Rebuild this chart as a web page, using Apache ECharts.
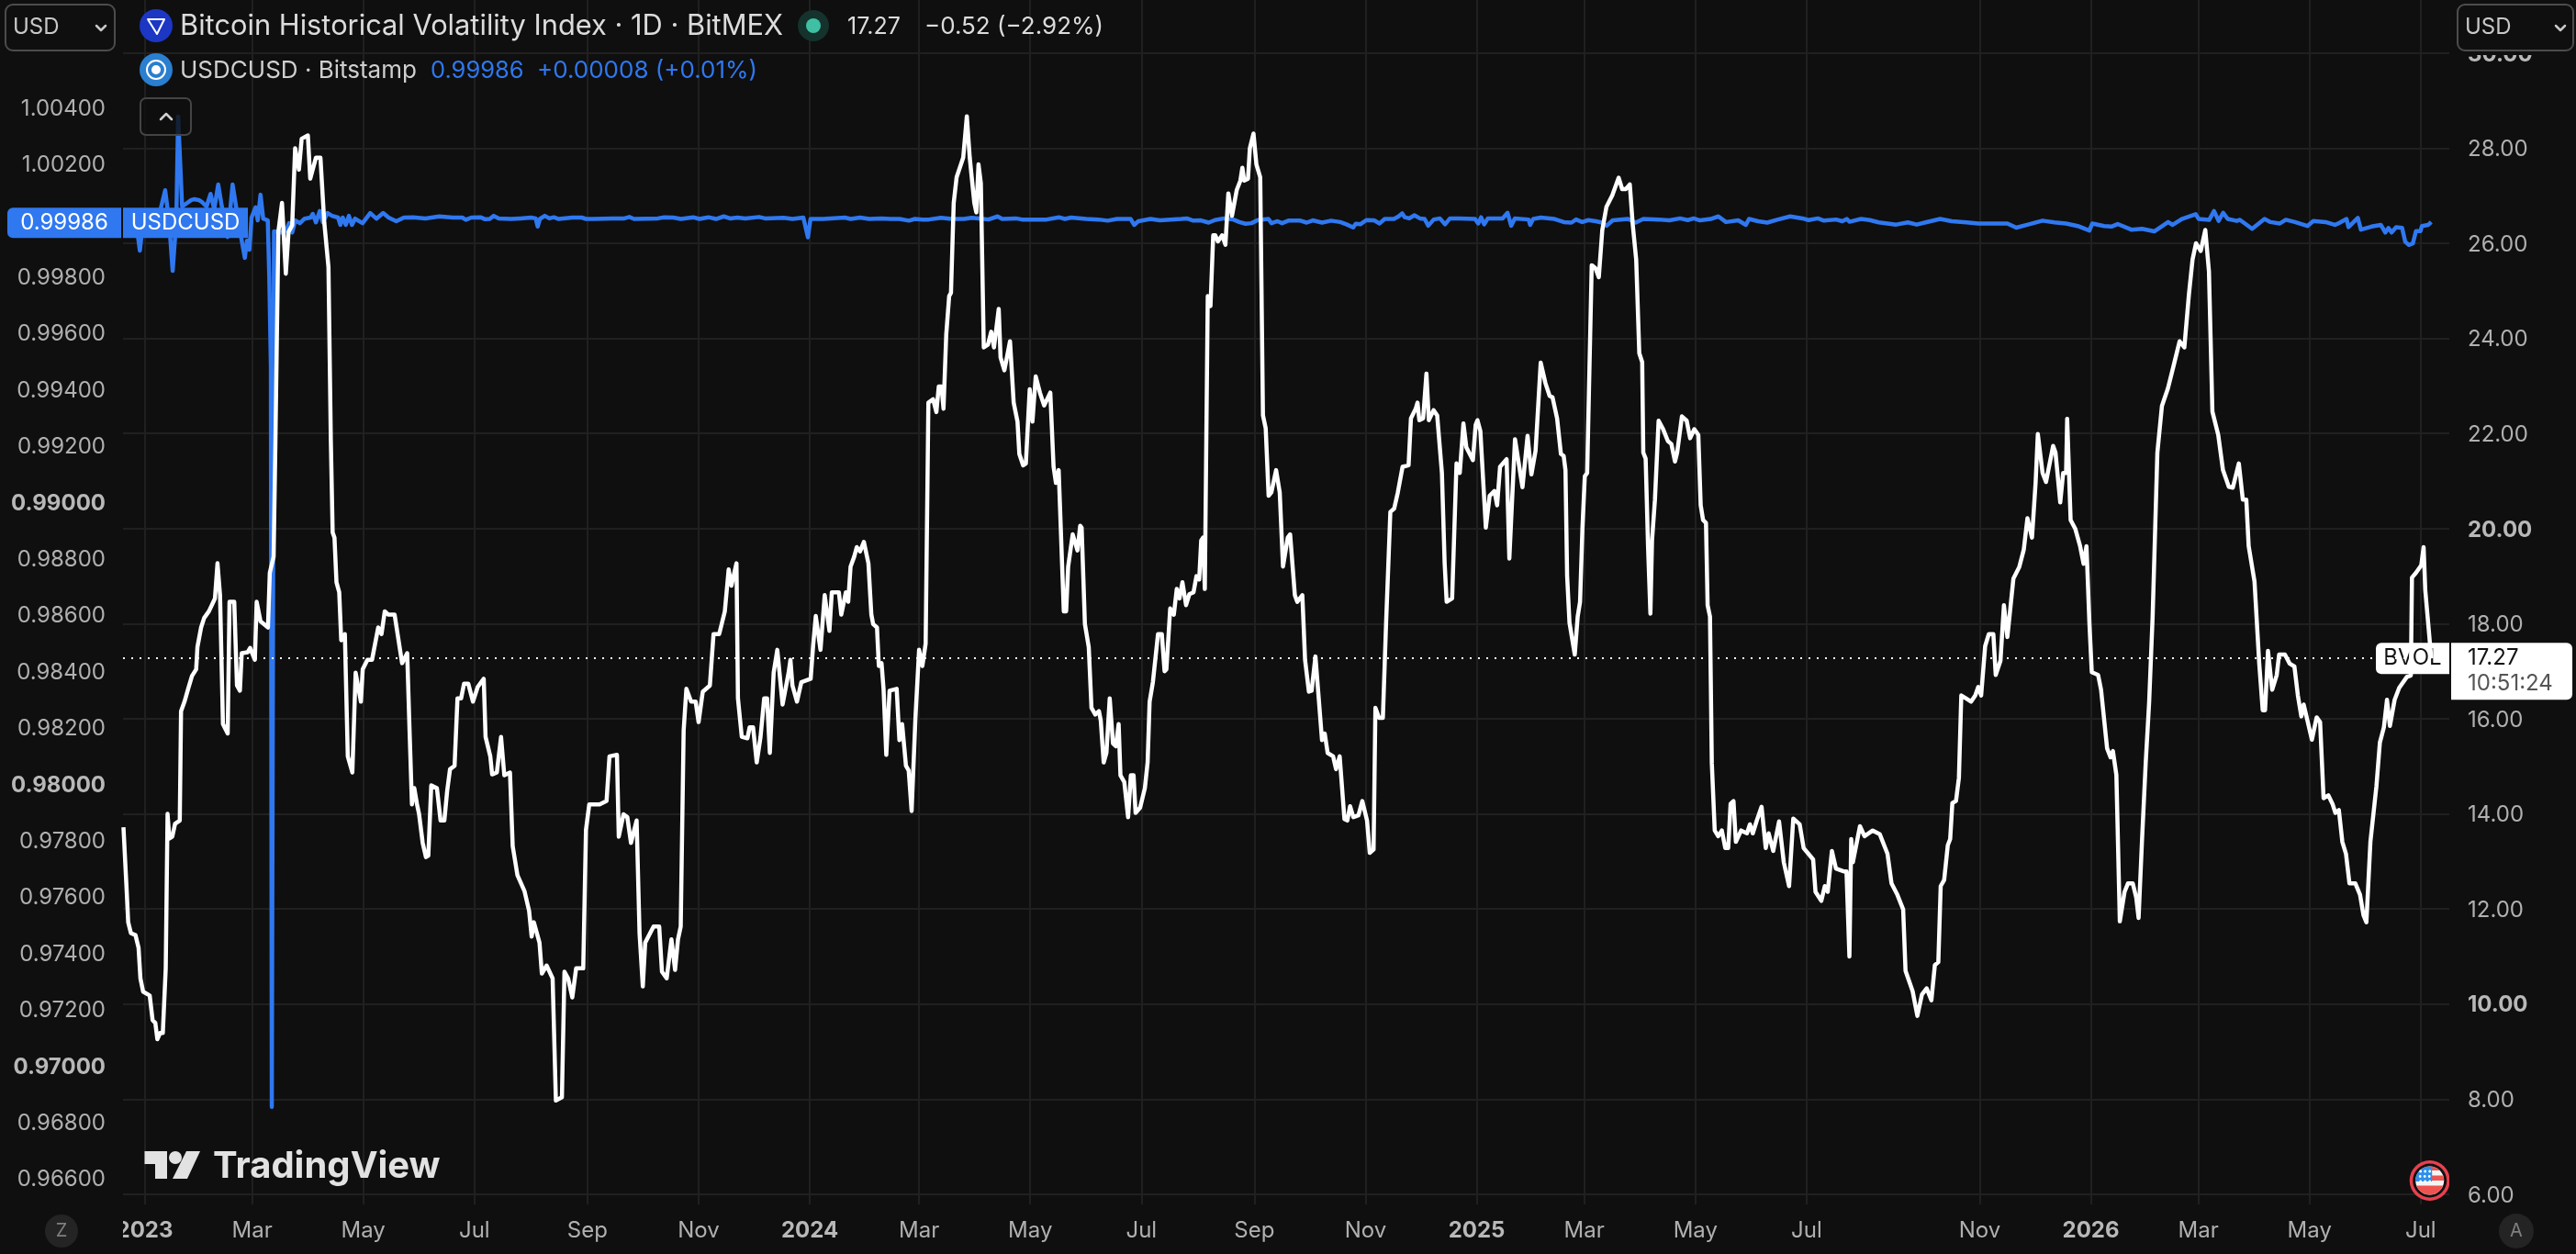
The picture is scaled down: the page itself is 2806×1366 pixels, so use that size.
<!DOCTYPE html>
<html>
<head>
<meta charset="utf-8">
<title>Bitcoin Historical Volatility Index vs USDCUSD</title>
<style>html,body{margin:0;padding:0;background:#0f0f0f}#chart{width:2806px;height:1366px}</style>
<script src="https://cdn.jsdelivr.net/npm/echarts@6/dist/echarts.min.js"></script>
</head>
<body>
<div id="chart"></div>
<script>
// Month ticks, in bars counted from 1 Jan 2023 (the feed skips a few weeks in Aug-Sep 2025).
const tickBars = [0,59,120,181,243,304,365,425,486,547,609,670,731,790,851,912,1007,1068,1127,1188,1249];
const tickLabels = ['2023','Mar','May','Jul','Sep','Nov','2024','Mar','May','Jul','Sep','Nov','2025','Mar','May','Jul','Nov','2026','Mar','May','Jul'];
const yearLabels = ['2023','2024','2025','2026'];

const volTicks = [6,8,10,12,14,16,18,20,22,24,26,28,30];
const volBoldTicks = [10,20,30];
const usdcTicks = [0.966,0.968,0.97,0.972,0.974,0.976,0.978,0.98,0.982,0.984,0.986,0.988,0.99,0.992,0.994,0.996,0.998,1,1.002,1.004];
const usdcBoldTicks = [0.97,0.98,0.99,1];

const bvolLast = 17.27;
const usdcLast = 0.99986;

// BVOL daily closes (bar number, index value)
const bvolBars = [-11.6,-10,-9,-7.5,-5,-3.3,-2.3,-0.8,2.8,4.4,5.9,7,8.5,10,11.6,12.6,13.6,15.2,16.7,19.3,20,21.9,23.9,26,28.3,29,31,32.7,35.3,38.6,40,41.4,43,45.6,46.6,49.2,50.7,52.3,53.3,56.6,57.9,60.5,61.5,63.6,67.7,68.7,70.8,71.8,73.4,75.4,77.5,79,81,82.6,84.7,86.2,89.6,90.9,94,96.5,98.6,100.9,102.2,103.2,104.2,105.3,106.8,107.9,109.9,111.5,114,115.8,118.7,119.7,122.3,124.8,128.2,130,131.8,133.8,137.2,141.3,144.1,145.4,146.7,148,149.5,150.6,152.6,154.4,155.7,157.3,160.4,162.4,164.5,166,167.6,170.1,171.7,173.7,175.3,177.6,180.2,182.8,186.1,187.1,189.7,190.7,193.3,195.6,197.4,200.5,202,204.6,208.5,211,212.4,213.6,216.7,218,220.6,223.9,225.7,229,230.4,232.4,234.7,236.8,240.7,242.2,244,249.7,253.5,255.1,259.2,260.2,262.8,264.9,266.9,270,271.6,273.4,274.7,279.3,282.4,283.9,286.5,289.1,291.1,292.7,294.2,295.8,297.3,299.9,302.4,304,306.3,310.2,312.2,315.3,318.4,320.5,322,324.8,325.6,327.7,330.8,332,333.9,335.9,338,340,341.6,343.1,345.2,347.2,350.1,353.4,354.4,355.5,358,360.4,365.5,366.8,368.3,370.9,373.2,375.8,377.1,381,382.3,384.8,386.1,387.4,389.4,
390.8,392.6,394.7,397.2,398.8,399.8,401.9,402.9,404.4,405.5,407,408.8,412.7,414.2,415.7,417.8,419.3,420.9,421.9,423,425,426.8,428.6,430.1,432.7,434.5,435.8,437.3,438.4,439.9,441.5,442.5,444,445.6,449.2,451.2,452.8,455.3,456.4,457.6,458.9,460.5,462.8,464.6,466.1,468.7,469.7,471.8,474.9,476.9,479,480,482.1,483.6,485.7,487.2,489,491.3,493.6,497,498.8,500.1,501.6,504.4,505.7,506.8,509.3,511.9,513.4,514.2,516,518.1,519.6,521.7,523.7,524.7,526.3,527.8,529.6,531.4,533,534.5,535.5,537.6,539.7,541.2,542.7,543.8,546.3,548.9,550.4,551.5,553.3,556.1,558.2,559.7,560.7,562.8,564.8,566.4,567.9,569.5,571.5,573.3,575.6,577.2,578.7,579.8,580.8,581.8,583.4,584.9,586.4,587.5,589,591.3,593.1,594.7,596.7,599.3,601.3,602.4,603.4,605.5,606.5,608.5,610.1,612.2,613.7,615.2,616.8,618.3,620.9,622.9,624.7,627.3,628.6,631.2,632.5,635.3,636.8,638.9,640.4,642.5,646.1,647.6,649.2,652.2,653.8,655.8,658.4,660,661.5,663.3,666.1,668.2,670.8,672.3,674.4,675.4,677.4,679.5,681.3,683.6,685.7,687.7,690.3,693.6,694.9,697.5,698.5,699.5,701.6,703.4,704.7,707.3,709.3,711.9,713.4,714.5,717.5,719.9,721.7,723.7,725.3,728.9,730.4,731.4,733,736,738.1,740.7,742.2,743.8,747.4,748.9,752,756.1,758.9,761,763.3,766.1,768.7,771,772.6,775.1,777.2,
778.7,779.7,780.6,781.9,783.2,784.8,786.4,787.7,789,790.3,791.6,794.1,796.1,798,799.9,802.2,805.4,808.9,810.8,812.8,815,816.6,818.5,820.2,821.8,822.4,823.7,825,826.3,827.2,828.8,830.8,833.3,835.9,837.8,839.8,841,843.6,846.2,848.1,850.4,852.6,853.9,855.2,856.8,857.7,859,860,861.6,863.5,865.5,867.4,869,870.3,871.9,873.2,876.1,879.3,880.9,882.5,884.7,887.3,889.6,891.2,893.7,896.9,899.5,902.4,904.7,908.2,910.4,913,915.6,916.9,920.1,922,923.6,925.9,928.1,932.3,933.9,935.5,936.5,937.4,941.3,943.8,948.3,952.2,956.4,958.6,961.8,965,966.3,970.2,972.8,975.3,977.9,980.5,982.4,984.3,985.6,987.5,989.5,990.8,992,994,995.6,996.9,999.8,1002.3,1004.6,1006.2,1007.8,1010,1012,1014.5,1015.8,1018.4,1020.3,1022.2,1025.5,1028.7,1031.2,1033.2,1035.7,1037.7,1038.9,1041.5,1043.4,1047.3,1048.6,1051.2,1052.8,1054.4,1055,1056.9,1059.5,1062.1,1064,1065.6,1067.2,1068.5,1072,1073.6,1076.9,1078.8,1080.1,1082,1083.9,1086.5,1088.4,1091,1092.9,1094.2,1096.1,1098.1,1100,1101.9,1104.5,1107,1110.3,1113.5,1116.7,1119.3,1121.8,1123.8,1125.7,1128.3,1130.8,1132.8,1134.7,1137.9,1140.5,1143.7,1145.9,1149.2,1151.4,1153.3,1154.6,1157.8,1160.4,1162.3,1163.6,1165.2,1167.5,1170,1171.3,1174.5,1177.1,1179.7,1181.6,1183.5,1184.8,1189.3,1191.9,1193.8,1195.7,1198.3,1200.6,1202.2,1204.1,1206,1208,1209.9,1213.1,1215.7,1217.6,1219.2,1221.4,1224.7,1226.6,1228.8,1230.5,1232.1,1234.7,1237.2,1241.4,1243.6,1244.2,1246.4,1249.3,1250.6,1251.5,1254.8];
const bvolValues = [13.72,12.51,11.72,11.49,11.45,11.18,10.54,10.26,10.18,9.66,9.6,9.26,9.39,9.39,10.75,14,13.48,13.52,13.79,13.86,16.16,16.36,16.63,16.9,17.04,17.51,17.92,18.12,18.26,18.53,19.27,18.6,15.89,15.69,18.46,18.46,16.7,16.59,17.38,17.4,17.49,17.24,18.46,18.05,17.92,19.07,19.41,21.84,26.24,26.85,25.36,26.24,26.38,28,27.55,28.2,28.27,27.36,27.8,27.8,26.44,25.5,21.84,19.92,19.81,18.87,18.66,17.65,17.78,15.21,14.87,16.97,16.36,17.04,17.24,17.24,17.92,17.78,18.26,18.19,18.19,17.17,17.38,15.75,14.2,14.54,14.2,14,13.39,13.09,13.12,14.6,14.54,13.86,13.86,14.47,14.94,15.01,16.43,16.43,16.74,16.74,16.36,16.67,16.84,15.62,15.21,14.83,14.87,15.62,14.81,14.87,13.32,12.71,12.37,11.96,11.42,11.72,11.29,10.64,10.81,10.54,7.97,8.04,10.68,10.54,10.14,10.75,10.75,13.66,14.2,14.2,14.27,15.21,15.24,13.52,13.99,13.93,13.39,13.86,11.49,10.37,11.29,11.63,11.63,10.68,10.54,11.36,10.72,11.36,11.63,15.75,16.63,16.36,16.36,15.93,16.57,16.7,17.78,17.78,18.26,19.14,18.8,19.27,16.43,15.62,15.59,15.82,15.82,15.08,15.62,16.43,16.43,15.28,16.97,17.45,16.3,16.97,17.24,16.7,16.36,16.77,16.84,17.51,18.16,17.45,18.6,17.85,18.66,18.66,18.19,18.66,18.46,19.2,19.41,
19.61,19.52,19.72,19.27,18.19,17.99,17.92,17.11,17.17,16.63,15.24,16.59,16.63,15.55,15.89,15.01,14.91,14.06,14.06,16.02,17.45,17.11,17.58,22.65,22.72,22.45,22.99,22.99,22.52,24.08,24.89,24.96,26.85,27.39,27.8,28.67,27.8,26.85,26.65,27.66,27.26,23.81,23.87,24.14,23.81,24.62,23.6,23.33,23.94,22.65,22.25,21.57,21.33,21.37,22.93,22.25,23.2,22.86,22.59,22.86,21.3,20.96,21.23,18.26,18.26,19.2,19.88,19.54,20.06,20.02,17.99,17.51,16.23,16.09,16.16,15.96,15.08,15.28,16.43,15.48,15.42,15.89,14.81,14.67,13.93,14.81,14.81,14.02,14.13,14.54,15.08,16.36,16.77,17.78,17.78,17,17.04,18.32,18.19,18.73,18.53,18.87,18.39,18.62,18.66,19,18.93,19.75,19.81,18.73,24.89,24.68,26.17,26.17,26.04,26.17,25.97,27.05,26.58,27.12,27.32,27.59,27.32,27.36,28,28.31,27.66,27.39,22.38,22.11,20.69,20.76,21.23,20.76,19.2,19.81,19.88,18.6,18.46,18.6,17.24,16.57,16.59,17.31,15.55,15.69,15.28,15.21,14.94,15.21,13.89,13.86,14.16,13.93,13.97,14.27,13.86,13.18,13.25,16.23,16.02,16.02,18.05,20.35,20.42,20.76,21.3,21.33,22.32,22.52,22.65,22.28,22.32,23.26,22.28,22.49,22.38,21.17,19.27,18.46,18.53,21.37,21.17,22.21,21.71,21.44,22.18,22.28,22.05,20.02,20.69,20.79,20.49,21.3,21.46,19.37,21.88,20.87,21.95,21.14,21.64,23.49,23.06,22.79,22.76,22.32,21.57,
21.53,21.23,19.01,18.02,17.72,17.35,18.15,18.46,20,21.1,21.17,25.54,25.48,25.29,26.28,26.77,27.01,27.38,27.14,27.14,27.24,26.4,25.66,23.69,23.5,21.6,21.47,19.63,18.21,19.75,20.61,22.27,22.09,21.84,21.78,21.41,21.6,22.36,22.27,21.9,22.09,21.97,20.49,20.18,20.12,18.39,18.15,15.07,13.65,13.53,13.65,13.28,13.28,14.21,14.27,13.41,13.65,13.59,13.78,13.59,13.86,14.15,13.28,13.59,13.22,13.84,12.98,12.48,13.9,13.78,13.28,13.16,13.04,12.36,12.17,12.48,12.36,13.22,12.85,12.79,12.79,11,13.47,12.98,13.74,13.53,13.65,13.57,13.16,12.54,12.3,11.99,10.7,10.27,9.75,10.2,10.33,10.08,10.82,10.88,12.48,12.61,13.34,13.47,14.23,14.27,14.76,16.49,16.42,16.36,16.49,16.67,16.49,17.53,17.78,17.78,16.92,17.22,18.39,17.72,18.95,19.19,19.56,20.22,19.81,20.98,21.99,21.17,20.98,21.74,21.6,20.55,21.17,21.17,22.31,20.18,19.99,19.63,19.26,19.63,18.02,16.98,16.92,16.61,15.38,15.19,15.32,14.82,11.74,12.36,12.54,12.54,12.24,11.81,13.47,15.07,16.36,18.15,21.6,22.58,22.95,23.44,23.94,23.81,24.92,25.66,26,25.84,26.28,25.41,22.46,21.97,21.23,20.88,20.86,21.37,20.61,20.61,19.63,18.89,17.16,16.18,16.18,17.43,16.61,16.92,17.35,17.35,17.16,17.1,16.49,16.05,16.3,15.56,16.03,15.93,14.33,14.39,14.21,14.02,14.08,13.41,13.16,12.54,12.54,12.3,11.87,11.72,13.41,14.58,15.5,15.82,16.4,15.85,16.4,16.65,16.88,16.91,18.97,19.07,19.23,19.61,18.71,17.27];

// USDCUSD closes on Bitstamp (bar number, price)
const usdcBars = [-8.8,-4.8,-2.6,-0.8,7.3,11.3,13.4,15.4,17.4,18.4,20.6,25.6,27.3,29.8,31.5,34,36.2,38.2,40.4,42.4,45.6,48.3,50.6,53.3,55,56.2,57.5,58.7,60.9,62.1,63.6,65.1,67.6,68.4,69.3,69.8,71,75.2,77.7,79.3,81,82.7,85.2,87.8,91.1,92.3,94,96.1,97.8,100.4,102.9,106.2,107.4,108.7,110.4,112.1,113.8,115.5,119.6,123.8,127.2,130.9,133.9,138.1,142.3,
147.4,154.1,161.7,169.2,174.3,176.3,179.3,184.3,186.9,189.4,191.6,194.4,201.1,206.2,212,214.6,215.7,216.9,219.6,222.1,224.6,227.2,234.7,239.8,242.3,246.5,256.6,263.3,266,268.6,281.7,285.1,290.1,294.3,301,304.4,309.4,313.6,317.8,321.2,325.4,329.6,337.2,340.5,350.6,355.6,361.5,364,365.4,372.4,384.2,387.5,392.6,397.6,404.3,
409.3,414.3,419.4,422.7,426.9,430.3,437,442.9,449.6,453.8,458,463,468.1,470.6,478.1,481.5,495,501.7,505,508.4,516.8,523.5,528.5,533.6,541.1,543,545.3,552,557.1,568.8,571.9,575.5,579.7,583.9,587.3,592.3,597.4,600.7,604.1,607.4,610.8,616.7,618.4,621.7,624.2,627.6,634.3,637.7,641,646.1,651.1,656.1,659.5,663.2,664.6,667.1,670.4,
671.3,674.7,677.7,680.5,685.6,688.1,690.1,691.5,694,696.8,699.8,702.4,704.4,707.4,710.8,713.6,716.3,721.7,730.1,731.8,733.4,735.1,737.1,745.2,747.9,749.9,751.9,759.5,760.3,762,766.2,773.7,778.8,783,785.5,788.9,792.2,796.4,799.8,802.3,805.6,814,818.2,822.4,830.8,836.7,842.6,846.8,850.1,853.5,859.4,863.6,867.8,874.5,878.7,880.4,885.4,890.4,896.3,903,909.8,913.1,918.2,921.5,928.2,931.6,934.1,
935.5,941.9,946.7,951.6,956.4,961.2,967.6,972.4,977.3,985.3,991.7,999.8,1006.2,1015.8,1022.2,1027.1,1033.5,1041.5,1048,1054.4,1060.8,1067.2,1068.8,1075.3,
1079.3,1082.7,1090.2,1096.1,1102.8,1110.4,1112.9,1117.9,1125.5,1127.2,1133,1135.6,1138.1,1140.6,1143.1,1148.1,1149.8,1156.5,1163.3,1166.6,1171.7,1175,1180,1186.8,1190.1,1196.8,1201.9,1204.4,1208.3,1209.4,1214.5,1216.2,1222,1227.1,1229.6,1231.3,1233,1235.5,1238.8,1240.5,1242.5,1244.7,1246.4,1248.9,1249.7,1253.1,1254.8];
const usdcValues = [0.99993,0.99993,0.99886,0.99993,0.99993,1.001,0.99993,0.99814,0.99993,1.00361,1.00042,1.00065,1.00068,1.00065,1.00058,1.00042,1.00087,1.00032,1.0012,1.00042,0.99934,1.0012,1.00026,0.99921,0.9986,0.99921,0.99889,1.00003,1.00039,0.99993,1.00084,0.99999,0.99993,0.99798,0.99472,0.96847,0.99954,0.9995,0.99957,0.99983,0.9995,0.99993,0.99983,0.99999,1.00003,1.00016,0.99986,1.00026,0.99986,1.00019,1.00009,1.00003,0.99977,1.00003,0.99977,1.00009,0.99977,0.99999,0.99983,1.00019,0.99999,1.00019,1.00003,0.9999,1.00003,
1.00004,1,1.00007,1.00003,1.00003,0.99995,1.00003,1.00004,0.99997,0.99998,1.00009,1,0.99998,1,1.00003,1,0.99971,0.99998,1.00009,1,1.00004,0.99998,1.00003,1.00003,0.99998,0.99998,1,1,1.00005,0.99998,1,1.00004,1.00003,0.99998,1.00004,0.99998,1.00004,0.99998,1.00007,1,1.00003,1,1.00005,1,1.00002,0.99998,1.00003,0.99933,0.99998,0.99998,1.00003,0.99998,1.00003,0.99998,1,
0.99998,0.99998,0.99992,0.99998,0.99996,0.99996,1.00002,0.99998,0.99998,1.00002,1,0.99996,1.00007,0.99998,1,0.99996,0.99996,1.00004,0.99998,1.00003,0.99998,0.99996,0.99992,0.99998,0.99998,0.99977,0.9999,0.99998,0.99993,0.99998,1,0.99992,0.99993,0.99985,0.99994,1,0.99996,0.99987,0.99981,0.99983,0.99994,0.99998,0.99983,0.9999,0.99983,0.99992,0.99992,0.99985,0.99993,0.99985,0.99992,0.99987,0.99979,0.99968,0.99981,0.99979,0.99994,
0.9999,0.99993,0.99982,0.99998,0.99998,1.00007,1.00018,1.00004,1,1.00011,1,0.99998,0.99974,0.99996,1,0.99979,1,1,0.99998,0.99982,1.00004,0.99979,1,1,1.0002,0.99974,1,0.99996,0.99977,0.99998,1.00003,0.99998,0.99987,0.99985,0.99996,0.99987,0.99994,0.9999,0.99985,0.99974,0.99993,0.99998,0.99985,0.99998,0.99996,0.99993,1,0.99994,1,0.99993,0.99998,1.00007,0.99987,0.99993,0.99977,0.99998,0.9999,0.99985,0.99996,1.00007,1,0.99994,1,0.99992,0.99996,0.9999,0.99998,
0.99988,0.99998,0.99994,0.99986,0.99982,0.99978,0.99986,0.99978,0.99986,0.99998,0.9999,0.99986,0.99982,0.99982,0.99982,0.99967,0.99978,0.99992,0.99986,0.99982,0.99973,0.99957,0.99982,0.99973,
0.99971,0.9998,0.9996,0.99963,0.99954,0.99987,0.99977,0.99998,1.00015,0.99998,0.99995,1.00026,0.99991,1.0002,0.99998,0.99991,0.99995,0.99963,0.99998,0.99987,0.99982,0.99995,0.99987,0.99973,0.99991,0.99987,0.99977,0.99984,0.99998,0.99969,1.00002,0.9996,0.99971,0.99977,0.9995,0.99966,0.9995,0.99969,0.99966,0.99917,0.99906,0.99911,0.99955,0.99955,0.99973,0.99977,0.99987];

const FONT = 'Inter, "Noto Sans", sans-serif';
const BG = '#0f0f0f';
const BLUE = '#2f78f0';
const LABEL = '#b0b0b0';
const LABEL_BOLD = '#b8b8b8';

// Plot window, and the axis extents that put each tick on its scale.
const GRID = {left: 134, right: 138, top: 0, bottom: 54};
const BAR_RANGE = [-11.84, 1264.7];
const VOL_RANGE = [5.785, 31.118];
const USDC_RANGE = [0.96501, 1.00775];

const zip = (xs, ys) => xs.map((x, i) => [x, ys[i]]);

const chart = echarts.init(document.getElementById('chart'), null, {renderer: 'canvas'});

const numberLabel = (bold, digits) => v => {
  const on = bold.some(b => Math.abs(b - v) < 1e-7);
  const s = v.toFixed(digits);
  return on ? '{b|' + s + '}' : s;
};
const boldStyle = {fontFamily: FONT, fontSize: 24, fontWeight: 700, color: LABEL_BOLD};

chart.setOption({
  backgroundColor: BG,
  animation: false,
  grid: {left: GRID.left, right: GRID.right, top: GRID.top, bottom: GRID.bottom, containLabel: false},
  xAxis: {
    type: 'value', min: BAR_RANGE[0], max: BAR_RANGE[1],
    axisLine: {show: false},
    axisTick: {show: false, customValues: tickBars},
    splitLine: {show: true, lineStyle: {color: '#202020', width: 2}},
    axisLabel: {
      customValues: tickBars, margin: 17, color: LABEL, fontFamily: FONT, fontSize: 24, hideOverlap: false,
      showMinLabel: true, showMaxLabel: true,
      formatter: v => {
        const t = tickLabels[tickBars.indexOf(v)];
        return yearLabels.includes(t) ? '{b|' + t + '}' : t;
      },
      rich: {b: boldStyle}
    }
  },
  yAxis: [
    {
      type: 'value', position: 'right', min: VOL_RANGE[0], max: VOL_RANGE[1],
      axisLine: {show: false},
      axisTick: {show: false, customValues: volTicks},
      splitLine: {show: true, lineStyle: {color: '#202020', width: 2}},
      axisLabel: {
        customValues: volTicks, inside: false, margin: 20, align: 'left', color: LABEL, fontFamily: FONT, fontSize: 24,
        padding: [3, 0, 0, 0],
        formatter: numberLabel(volBoldTicks, 2),
        rich: {b: boldStyle}
      }
    },
    {
      type: 'value', position: 'left', min: USDC_RANGE[0], max: USDC_RANGE[1],
      axisLine: {show: false},
      axisTick: {show: false, customValues: usdcTicks},
      splitLine: {show: false},
      axisLabel: {
        customValues: usdcTicks, margin: 19, align: 'right', color: LABEL, fontFamily: FONT, fontSize: 24,
        padding: [7, 0, 0, 0],
        formatter: numberLabel(usdcBoldTicks, 5),
        rich: {b: boldStyle}
      }
    }
  ],
  series: [
    {
      name: 'USDCUSD', type: 'line', yAxisIndex: 1, z: 3,
      data: zip(usdcBars, usdcValues), showSymbol: false, symbol: 'none',
      lineStyle: {color: BLUE, width: 4.5, join: 'round'}
    },
    {
      name: 'BVOL', type: 'line', yAxisIndex: 0, z: 4,
      data: zip(bvolBars, bvolValues), showSymbol: false, symbol: 'none',
      lineStyle: {color: '#ffffff', width: 4.5, join: 'round'},
      markLine: {
        silent: true, symbol: 'none', label: {show: false},
        lineStyle: {color: '#ffffff', width: 2, type: [2, 7], opacity: 1},
        data: [{yAxis: bvolLast}]
      }
    }
  ]
});

// Price tags follow the scales; the chart furniture sits at fixed spots.
const volY = chart.convertToPixel({yAxisIndex: 0}, bvolLast);
const usdcY = chart.convertToPixel({yAxisIndex: 1}, usdcLast);

const rect = (x, y, w, h, fill, z, r, stroke) => ({
  type: 'rect', silent: true, z,
  shape: {x, y, width: w, height: h, r: r || 0},
  style: stroke ? {fill, stroke, lineWidth: 2} : {fill}
});
const circle = (cx, cy, r, fill, z) => ({type: 'circle', silent: true, z, shape: {cx, cy, r}, style: {fill}});
const text = (x, y, s, size, fill, z, extra) => ({
  type: 'text', silent: true, z, x, y,
  style: Object.assign({text: s, fontFamily: FONT, fontSize: size, fill, textVerticalAlign: 'middle', verticalAlign: 'middle', align: 'left'}, extra || {})
});
const stroke = (pts, color, width, z) => ({
  type: 'polyline', silent: true, z, shape: {points: pts},
  style: {stroke: color, lineWidth: width, fill: null, lineCap: 'round', lineJoin: 'round'}
});

// A band of a circle between two heights, cut off at xMax.
function circleBand(cx, cy, r, top, bottom, xMax, fill, z) {
  const left = [], right = [];
  for (let i = 0; i <= 12; i++) {
    const y = top + (bottom - top) * i / 12;
    const half = Math.sqrt(Math.max(0, r * r - (y - cy) * (y - cy)));
    left.push([cx - half, y]);
    right.unshift([Math.min(cx + half, xMax), y]);
  }
  return {type: 'polygon', silent: true, z, shape: {points: left.concat(right)}, style: {fill}};
}

function flagMark(cx, cy) {
  const r = 15.5, z = 12;
  const parts = [
    circle(cx, cy, 22, '#e8404f', z),
    rect(2668, cy - 24, 14, 48, BG, z + 1),
    circle(cx, cy, 18.5, '#111111', z + 1),
    circle(cx, cy, r, '#f4f4f4', z + 2),
    circleBand(cx, cy, r, cy - r, cy - 11, cx + r, '#ef5350', z + 3),
    circleBand(cx, cy, r, cy - 5.5, cy, cx + r, '#ef5350', z + 3),
    circleBand(cx, cy, r, cy + 5.5, cy + r, cx + r, '#ef5350', z + 3),
    circleBand(cx, cy, r, cy - r, cy + 1, cx + 2.5, '#2f8fea', z + 4)
  ];
  [-11, -5.5, 0].forEach((dy, row) => {
    [-10, -5, 0].forEach(dx => parts.push(circle(cx + dx + (row === 1 ? -0.5 : 0), cy + dy + 1, 1.4, '#ffffff', z + 5)));
  });
  return parts;
}

const wordmark = [
  {type: 'polygon', silent: true, z: 6, shape: {points: [[157.5,1254],[182,1254],[182,1284],[169,1284],[169,1268],[157.5,1268]]}, style: {fill: '#e2e2e2'}},
  circle(191, 1261, 7, '#e2e2e2', 6),
  {type: 'polygon', silent: true, z: 6, shape: {points: [[203,1254],[218,1254],[204,1284],[188,1284]]}, style: {fill: '#e2e2e2'}},
  text(232, 1271, 'TradingView', 40, '#e2e2e2', 6, {fontWeight: 700})
];

chart.setOption({
  graphic: {elements: [
    // clipped edges of the axes
    rect(2670, 0, 136, 60, BG, 6),
    rect(86, 1314, 48, 52, BG, 6),

    // corner scale buttons
    circle(67, 1341, 18, '#242424', 7),
    text(67, 1341, 'Z', 20, '#808080', 8, {align: 'center'}),
    circle(2741, 1341, 19, '#242424', 7),
    text(2741, 1341, 'A', 20, '#808080', 8, {align: 'center'}),

    // currency selectors
    rect(6, 5, 119, 50, BG, 7, 8, '#4c4c4c'),
    text(14, 30, 'USD', 24, '#c8c8c8', 8),
    stroke([[105,28],[110,33],[115,28]], '#c8c8c8', 2.5, 8),
    rect(2677, 5, 126, 50, BG, 7, 8, '#4c4c4c'),
    text(2685, 30, 'USD', 24, '#c8c8c8', 8),
    stroke([[2784,28],[2789,33],[2794,28]], '#c8c8c8', 2.5, 8),

    // BVOL legend row
    circle(170, 28, 18, '#1b37c4', 8),
    stroke([[161,21],[179,21],[171,37],[161,21]], '#ffffff', 2, 9),
    text(196, 29, 'Bitcoin Historical Volatility Index \u00b7 1D \u00b7 BitMEX', 30.8, '#dcdcdc', 8),
    circle(886, 28, 17, '#15322c', 8),
    circle(886, 28, 8, '#3fc0a5', 9),
    text(923, 29, bvolLast.toFixed(2), 25, '#dcdcdc', 8),
    text(1007, 29, '\u22120.52 (\u22122.92%)', 26, '#dcdcdc', 8),

    // USDCUSD legend row
    circle(170, 76, 18, '#2a7fd0', 8),
    {type: 'circle', silent: true, z: 9, shape: {cx: 170, cy: 76, r: 10}, style: {fill: null, stroke: '#ffffff', lineWidth: 2}},
    circle(170, 76, 5, '#ffffff', 9),
    text(196, 77, 'USDCUSD \u00b7 Bitstamp', 26, '#cfcfcf', 8),
    text(469, 77, usdcLast.toFixed(5), 25.5, BLUE, 8),
    text(585, 77, '+0.00008 (+0.01%)', 26, BLUE, 8),

    // legend collapse button
    rect(153, 107, 55, 40, 'rgba(15,15,15,0.82)', 8, 6, '#444444'),
    stroke([[175,130],[181,124],[187,130]], '#d0d0d0', 2.5, 9),

    // USDCUSD price tags
    {type: 'rect', silent: true, z: 10, shape: {x: 8, y: usdcY - 16, width: 124, height: 33, r: [6, 0, 0, 6]}, style: {fill: BLUE}},
    text(70, usdcY + 1, usdcLast.toFixed(5), 24, '#ffffff', 11, {align: 'center'}),
    rect(134, usdcY - 16, 136, 33, BLUE, 10),
    text(202, usdcY + 1, 'USDCUSD', 24, '#ffffff', 11, {align: 'center'}),

    // BVOL price tags: the name tag sits under the line, the value tag over it
    {type: 'rect', silent: true, z: 2, shape: {x: 2588, y: volY - 17, width: 80, height: 34, r: [6, 0, 0, 6]}, style: {fill: '#ffffff'}},
    text(2628, volY, 'BVOL', 24, '#111111', 2, {align: 'center'}),
    {type: 'rect', silent: true, z: 10, shape: {x: 2670, y: volY - 17, width: 132, height: 62, r: [0, 6, 6, 0]}, style: {fill: '#ffffff'}},
    text(2688, volY, bvolLast.toFixed(2), 24, '#111111', 11),
    text(2688, volY + 28, '10:51:24', 24, '#555555', 11)
  ].concat(wordmark, flagMark(2646.7, 1286))}
});
</script>
</body>
</html>
